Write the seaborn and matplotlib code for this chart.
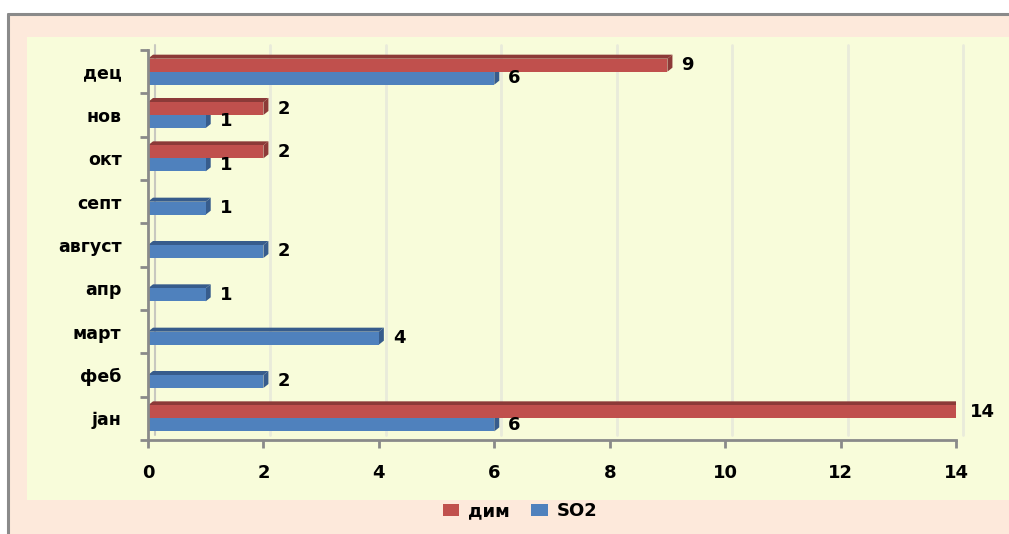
import numpy as np
import pandas as pd
import matplotlib
matplotlib.use("Agg")
import matplotlib.pyplot as plt
import matplotlib.transforms as mtransforms
from matplotlib.patches import Polygon, Rectangle
from matplotlib.lines import Line2D
import seaborn as sns

# Months, listed top to bottom
months = ["дец", "нов", "окт", "септ", "август", "апр", "март", "феб", "јан"]
# Number of exceedances per month (None = no exceedance)
dim = [9, 2, 2, None, None, None, None, None, 14]
so2 = [6, 1, 1, 1, 2, 1, 4, 2, 6]
series = ["дим", "SO2"]
x_ticks = [0, 2, 4, 6, 8, 10, 12, 14]

colors = {"дим": "#c0504d", "SO2": "#4f81bd"}
dark = {"дим": "#8c3a38", "SO2": "#375c8c"}

rows = []
for m, d, s in zip(months, dim, so2):
    if d is not None:
        rows.append({"month": m, "series": "дим", "value": d})
    if s is not None:
        rows.append({"month": m, "series": "SO2", "value": s})
df = pd.DataFrame(rows)

sns.set_style("white")
plt.rcParams["font.family"] = ["DejaVu Sans"]
plt.rcParams["text.color"] = "black"
plt.rcParams["xtick.color"] = "black"
plt.rcParams["ytick.color"] = "black"

W, H = 1009, 534
fig = plt.figure(figsize=(W / 100, H / 100), dpi=100)
fig.patch.set_facecolor("white")

# Outer peach frame and inner pale-yellow panel
fig.add_artist(Rectangle((8 / W, 0), 1 - 8 / W, (H - 14) / H, transform=fig.transFigure,
                         facecolor="#fde9db", edgecolor="none", zorder=-3))
fig.add_artist(Line2D([8 / W, 8 / W], [0, (H - 14) / H], transform=fig.transFigure,
                      color="#8a8a8a", lw=2.2, zorder=-2))
fig.add_artist(Line2D([8 / W, 1], [(H - 14) / H, (H - 14) / H], transform=fig.transFigure,
                      color="#8a8a8a", lw=2.2, zorder=-2))
fig.add_artist(Rectangle((27 / W, (H - 500) / H), 1 - 27 / W, (500 - 37) / H,
                         transform=fig.transFigure, facecolor="#f8fcda",
                         edgecolor="none", zorder=-1))

ax = fig.add_axes([148 / W, 1 - 440 / H, (956 - 148) / W, (440 - 50) / H])
ax.set_facecolor("none")
ax.set_zorder(1)

sns.barplot(data=df, y="month", x="value", hue="series", order=months,
            hue_order=series, palette=colors, orient="h", width=0.6,
            dodge=True, ax=ax, legend=True, saturation=1, zorder=3,
            linewidth=0, edgecolor="none")

ax.set_xlim(0, 14)
ax.set_ylim(len(months) - 0.5, -0.5)

# Gridlines drawn on the slanted back wall
off = mtransforms.ScaledTranslation(7 / 100, 5 / 100, fig.dpi_scale_trans)
wall = ax.get_xaxis_transform() + off
for t in x_ticks[1:]:
    ax.plot([t, t], [0, 1], color="#e9ebda", lw=2.0, zorder=1, transform=wall,
            clip_on=False)
ax.plot([0, 0], [0, 1], color="#c8c8c0", lw=1.5, zorder=1, transform=wall, clip_on=False)

# Top face and end cap give each bar a bevelled 3-D look
dx = 5 / 57.7
dy = 4 / 43.3
for cont, name in zip(ax.containers, series):
    for p in cont.patches:
        x0, y0 = p.get_x(), p.get_y()
        w, h = p.get_width(), p.get_height()
        if not np.isfinite(w):
            continue
        ytop = y0  # inverted axis: smaller y is higher
        ybot = y0 + h
        top = Polygon([(x0, ytop), (x0 + w, ytop), (x0 + w + dx, ytop - dy),
                       (x0 + dx, ytop - dy)], closed=True,
                      facecolor=dark[name], edgecolor="none", zorder=2.9)
        cap = Polygon([(x0 + w, ytop), (x0 + w + dx, ytop - dy),
                       (x0 + w + dx, ybot - dy), (x0 + w, ybot)], closed=True,
                      facecolor=dark[name], edgecolor="none", zorder=2.9)
        ax.add_patch(top)
        ax.add_patch(cap)
    ax.bar_label(cont, labels=[f"{v:g}" for v in cont.datavalues], padding=10,
                 fontsize=13, fontweight="bold", color="black")

# Axes styling
for s in ["top", "right"]:
    ax.spines[s].set_visible(False)
for s in ["left", "bottom"]:
    ax.spines[s].set_color("#8a8a8a")
    ax.spines[s].set_linewidth(2)
    ax.spines[s].set_zorder(4)

ax.set_xticks(x_ticks)
ax.set_xticklabels([str(t) for t in x_ticks], fontsize=13, fontweight="bold")
ax.set_yticks(range(len(months)))
ax.set_yticklabels(months, fontsize=12.5, fontweight="bold")
ax.set_yticks(np.arange(-0.5, len(months)), minor=True)
ax.tick_params(axis="y", which="major", length=0, pad=19)
ax.tick_params(axis="y", which="minor", length=6, width=2, color="#8a8a8a", left=True)
ax.tick_params(axis="x", which="major", length=6, width=2, color="#8a8a8a", pad=11,
               bottom=True)
ax.set_xlabel("")
ax.set_ylabel("")
ax.grid(False)

handles, labels = ax.get_legend_handles_labels()
ax.get_legend().remove()
fig.legend(handles, labels, loc="center", bbox_to_anchor=(520 / W, 1 - 511 / H),
           ncol=2, frameon=False, handlelength=0.9, handleheight=0.65,
           handletextpad=0.5, columnspacing=1.2,
           prop={"size": 13, "weight": "bold"})

fig.savefig("out.png", dpi=100, facecolor=fig.get_facecolor())
